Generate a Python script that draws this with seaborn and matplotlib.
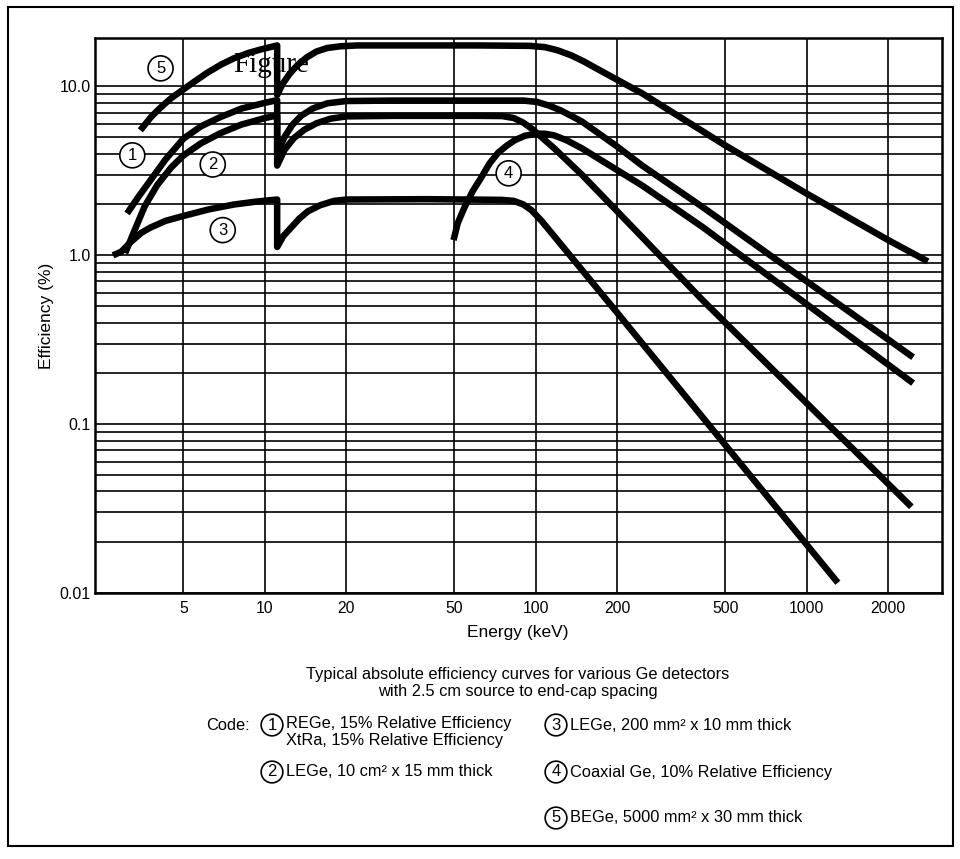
import numpy as np
import pandas as pd
import matplotlib
matplotlib.use("Agg")
import matplotlib.pyplot as plt
import seaborn as sns
from matplotlib.ticker import FixedLocator, NullLocator, LogLocator, NullFormatter
from matplotlib.patches import Rectangle

# ---------------- data ----------------
# curve 1: REGe 15% / XtRa 15%
c1_energy = [3.1, 3.4, 3.78, 4.3, 5.0, 5.8, 6.87, 8.2, 10.0, 11.1, 11.1, 11.8, 12.6, 13.6, 15.0, 17.0, 20.0,
             30.0, 60.0, 90.0, 101.0, 112.0, 124.0, 148.0, 200.0, 247.0, 413.0, 2470.0]
c1_eff    = [1.77, 2.2, 2.78, 3.7, 4.9, 5.8, 6.6, 7.4, 8.0, 8.3, 4.0, 5.0, 5.9, 6.7, 7.4, 7.95, 8.2,
             8.25, 8.25, 8.25, 8.1, 7.7, 7.2, 6.2, 4.4, 3.4, 1.93, 0.249]
# curve 2: LEGe 10 cm2 x 15 mm
c2_energy = [3.05, 3.3, 3.6, 4.0, 4.5, 5.0, 5.8, 6.87, 8.2, 10.0, 11.1, 11.1, 11.8, 12.8, 14.0, 15.5, 17.5, 20.0,
             30.0, 60.0, 75.0, 83.0, 90.0, 97.0, 117.0, 148.0, 247.0, 413.0, 2434.0]
c2_eff    = [1.03, 1.4, 1.95, 2.6, 3.3, 3.9, 4.6, 5.3, 5.95, 6.5, 6.73, 3.4, 4.2, 4.95, 5.55, 6.05, 6.45, 6.65,
             6.7, 6.7, 6.68, 6.5, 6.1, 5.6, 4.3, 3.0, 1.28, 0.542, 0.0324]
# curve 3: LEGe 200 mm2 x 10 mm
c3_energy = [2.75, 2.95, 3.2, 3.5, 3.78, 4.3, 5.0, 6.2, 7.7, 9.3, 11.1, 11.1, 11.7, 12.5, 13.4, 14.4, 16.0, 18.0, 20.0,
             40.0, 75.0, 83.0, 90.0, 96.4, 105.0, 202.0, 1303.0]
c3_eff    = [1.0, 1.05, 1.2, 1.36, 1.46, 1.6, 1.71, 1.87, 2.0, 2.08, 2.14, 1.12, 1.3, 1.46, 1.65, 1.82, 1.98, 2.1, 2.14,
             2.15, 2.13, 2.1, 2.0, 1.85, 1.6, 0.447, 0.0115]
# curve 4: Coaxial Ge 10%
c4_energy = [49.7, 51.5, 54.6, 58.5, 63.0, 67.5, 72.6, 78.0, 83.5, 91.0, 99.6, 108.0, 117.0, 130.0, 148.0, 247.0, 413.0, 2470.0]
c4_eff    = [1.23, 1.55, 1.93, 2.4, 2.9, 3.5, 4.05, 4.45, 4.8, 5.1, 5.25, 5.25, 5.13, 4.8, 4.3, 2.59, 1.47, 0.175]
# curve 5: BEGe 5000 mm2 x 30 mm
c5_energy = [3.47, 3.8, 4.12, 4.5, 5.0, 5.5, 6.1, 6.9, 7.7, 8.7, 9.7, 11.1, 11.1, 11.6, 12.3, 13.2, 14.3, 15.5, 17.0, 19.0,
             22.0, 60.0, 95.0, 108.0, 120.0, 135.0, 150.0, 180.0, 247.0, 500.0, 1000.0, 2000.0, 2800.0]
c5_eff    = [5.5, 6.6, 7.5, 8.5, 9.6, 10.7, 12.0, 13.5, 14.7, 15.8, 16.6, 17.5, 8.9, 10.3, 11.8, 13.4, 14.9, 16.1, 16.9, 17.3,
             17.5, 17.5, 17.4, 17.1, 16.4, 15.3, 14.1, 12.0, 9.1, 4.48, 2.32, 1.23, 0.92]

curve_ids = ["1", "2", "3", "4", "5"]
label_energy = [3.24, 6.42, 6.99, 79.4, 4.12]
label_eff = [3.91, 3.45, 1.41, 3.06, 12.8]

x_ticks = [5, 10, 20, 50, 100, 200, 500, 1000, 2000]
x_ticklabels = ["5", "10", "20", "50", "100", "200", "500", "1000", "2000"]
y_ticks = [0.01, 0.1, 1.0, 10.0]
y_ticklabels = ["0.01", "0.1", "1.0", "10.0"]

legend_ids = ["1", "2", "3", "4", "5"]
legend_text = [
    "REGe, 15% Relative Efficiency\nXtRa, 15% Relative Efficiency",
    "LEGe, 10 cm\u00b2 x 15 mm thick",
    "LEGe, 200 mm\u00b2 x 10 mm thick",
    "Coaxial Ge, 10% Relative Efficiency",
    "BEGe, 5000 mm\u00b2 x 30 mm thick",
]
caption = "Typical absolute efficiency curves for various Ge detectors\nwith 2.5 cm source to end-cap spacing"

# ---------------- build frame ----------------
energies = [c1_energy, c2_energy, c3_energy, c4_energy, c5_energy]
effs = [c1_eff, c2_eff, c3_eff, c4_eff, c5_eff]
rows = []
for cid, en, ef in zip(curve_ids, energies, effs):
    for i, (e, f) in enumerate(zip(en, ef)):
        rows.append({"curve": cid, "order": i, "energy": e, "eff": f})
df = pd.DataFrame(rows)

# ---------------- plot ----------------
sns.set_theme(style="white")
plt.rcParams["font.family"] = ["Liberation Sans", "DejaVu Sans"]
plt.rcParams["text.color"] = "black"
plt.rcParams["axes.labelcolor"] = "black"
plt.rcParams["xtick.color"] = "black"
plt.rcParams["ytick.color"] = "black"
plt.rcParams["lines.solid_capstyle"] = "butt"
plt.rcParams["lines.solid_joinstyle"] = "round"

W, H = 960, 859
fig = plt.figure(figsize=(W / 100, H / 100), dpi=100)
fig.patch.set_facecolor("white")

def fx(px):
    return px / W

def fy(py):
    return 1 - py / H

ax = fig.add_axes([fx(95), fy(593), fx(941.7) - fx(95), fy(37.5) - fy(593)])
ax.set_xscale("log")
ax.set_yscale("log")

for cid in curve_ids:
    sub = df[df["curve"] == cid].sort_values("order")
    sns.lineplot(data=sub, x="energy", y="eff", sort=False, estimator=None,
                 color="black", linewidth=4.7, ax=ax, legend=False, zorder=5)

ax.set_xlim(2.36, 3150)
ax.set_ylim(0.01, 19.5)

ax.xaxis.set_major_locator(FixedLocator(x_ticks))
ax.set_xticklabels(x_ticklabels)
ax.xaxis.set_minor_locator(NullLocator())
ax.yaxis.set_major_locator(FixedLocator(y_ticks))
ax.set_yticklabels(y_ticklabels)
ax.yaxis.set_minor_locator(LogLocator(base=10, subs=np.arange(2, 10)))
ax.yaxis.set_minor_formatter(NullFormatter())

ax.tick_params(which="both", length=0)
ax.tick_params(axis="x", pad=6, labelsize=11.3, colors="black")
ax.tick_params(axis="y", pad=3, labelsize=11.5, colors="black")

ax.grid(True, which="major", axis="x", color="black", linewidth=1.2)
ax.grid(True, which="both", axis="y", color="black", linewidth=1.2)
ax.set_axisbelow(True)
for sp in ax.spines.values():
    sp.set_color("black")
    sp.set_linewidth(1.8)
    sp.set_visible(True)

ax.set_xlabel("")
ax.set_ylabel("")

# stray "Figure" text under the curves
ax.text(0.163, 0.938, "Figure", transform=ax.transAxes, fontsize=21,
        family=["Liberation Serif", "DejaVu Serif"], ha="left", va="baseline",
        color="black", zorder=2)

# circled curve labels
for cid, e, f in zip(curve_ids, label_energy, label_eff):
    ax.text(e, f, cid, fontsize=12, ha="center", va="center", zorder=6,
            bbox=dict(boxstyle="circle,pad=0.3", fc="white", ec="black", lw=1.2))

# axis titles
fig.text(fx(47), fy(316), "Efficiency (%)", rotation=90, ha="center", va="center", fontsize=12.5)
fig.text(fx(518), fy(632), "Energy (keV)", ha="center", va="center", fontsize=12.5)

# caption
fig.text(fx(518), fy(683), caption, ha="center", va="center", fontsize=11.8, linespacing=1.2)

# code legend
fig.text(fx(206), fy(725), "Code:", ha="left", va="center", fontsize=11.8)
legend_pos = [(272, 725), (272, 772), (556, 725), (556, 772), (556, 818)]
for lid, txt, (px, py) in zip(legend_ids, legend_text, legend_pos):
    fig.text(fx(px), fy(py), lid, ha="center", va="center", fontsize=12,
             bbox=dict(boxstyle="circle,pad=0.2", fc="white", ec="black", lw=1.2))
    if "\n" in txt:
        fig.text(fx(px + 14), fy(py - 9), txt, ha="left", va="top", fontsize=11.8, linespacing=1.2)
    else:
        fig.text(fx(px + 14), fy(py), txt, ha="left", va="center", fontsize=11.8)

# outer frame
fig.patches.append(Rectangle((fx(8), fy(846)), fx(953) - fx(8), fy(7) - fy(846),
                             transform=fig.transFigure, fill=False, ec="black", lw=1.5))

fig.savefig("out.png", dpi=100)
